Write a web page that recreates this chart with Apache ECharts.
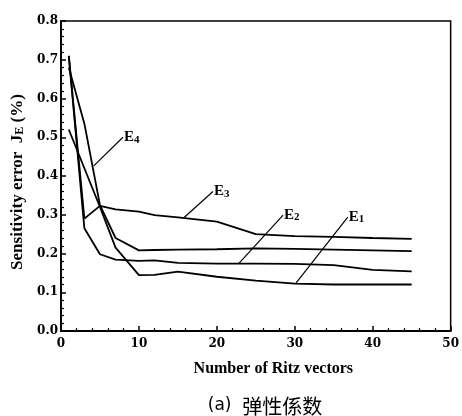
<!DOCTYPE html>
<html>
<head>
<meta charset="utf-8">
<script src="https://cdn.jsdelivr.net/npm/echarts@6/dist/echarts.min.js"></script>
<style>
  html, body { margin: 0; padding: 0; background: #fff; }
  #chart { width: 462px; height: 416px; }
</style>
</head>
<body>
<div id="chart"></div>
<script>
// number of Ritz vectors used
var ritzCounts = [1, 3, 5, 7, 10, 12, 15, 20, 25, 30, 35, 40, 45]

// sensitivity error J_E (%) per elastic modulus
var e1 = [0.52, 0.42, 0.32, 0.215, 0.144, 0.145, 0.153, 0.14, 0.13, 0.122, 0.12, 0.12, 0.12]
var e2 = [0.71, 0.265, 0.198, 0.184, 0.181, 0.182, 0.176, 0.174, 0.174, 0.173, 0.17, 0.158, 0.154]
var e3 = [0.71, 0.29, 0.323, 0.314, 0.308, 0.299, 0.293, 0.282, 0.25, 0.245, 0.243, 0.24, 0.238]
var e4 = [0.68, 0.535, 0.325, 0.24, 0.208, 0.209, 0.21, 0.211, 0.213, 0.212, 0.21, 0.208, 0.206]

// label leader lines [point on curve, label end], in data units
var leaders = {
  E1: [[30.1, 0.122], [36.8, 0.294]],
  E2: [[22.8, 0.174], [28.5, 0.299]],
  E3: [[15.8, 0.293], [19.5, 0.36]],
  E4: [[4.2, 0.426], [7.95, 0.50]]
}

var serif = '"Liberation Serif", "DejaVu Serif", serif'
var tickFont = '"DejaVu Serif", serif'

function pairs (ys) {
  return ritzCounts.map(function (x, i) { return [x, ys[i]] })
}

function curve (name, ys, sub) {
  var l = leaders[name]
  return {
    name: name,
    type: 'line',
    data: pairs(ys),
    showSymbol: false,
    symbol: 'none',
    lineStyle: {color: '#000', width: 1.8},
    markLine: {
      silent: true,
      symbol: 'none',
      animation: false,
      lineStyle: {color: '#000', width: 1.2, type: 'solid'},
      label: {show: false},
      data: [[{coord: l[0]}, {coord: l[1]}]]
    },
    markPoint: {
      silent: true,
      animation: false,
      symbol: 'circle',
      symbolSize: 0,
      label: {
        show: true,
        position: 'right',
        distance: 1,
        formatter: '{e|E}{s|' + sub + '}',
        rich: {
          e: {fontFamily: serif, fontWeight: 'bold', fontSize: 15, color: '#000', lineHeight: 16},
          s: {fontFamily: serif, fontWeight: 'bold', fontSize: 11, color: '#000', verticalAlign: 'bottom', lineHeight: 10}
        }
      },
      data: [{coord: l[1]}]
    }
  }
}

var myChart = echarts.init(document.getElementById('chart'))

var option = {
  animation: false,
  backgroundColor: '#fff',
  title: {
    text: '(a)  {c|弹性係数}',
    left: 260,
    top: 391,
    textAlign: 'center',
    textStyle: {
      fontFamily: '"DejaVu Sans", sans-serif',
      fontSize: 17,
      fontWeight: 'normal',
      color: '#000',
      rich: {
        c: {fontFamily: '"Noto Sans CJK SC", sans-serif', fontSize: 20, color: '#000'}
      }
    }
  },
  grid: {
    left: 61,
    right: 9,
    top: 21,
    bottom: 85,
    show: true,
    borderColor: '#000',
    borderWidth: 1.5,
    containLabel: false
  },
  xAxis: {
    type: 'value',
    min: 0,
    max: 50,
    interval: 10,
    name: 'Number of Ritz vectors',
    nameLocation: 'middle',
    nameGap: 30,
    nameTextStyle: {fontFamily: serif, fontWeight: 'bold', fontSize: 16, color: '#000', padding: [0, 0, 0, 35]},
    axisLine: {lineStyle: {color: '#000', width: 2}},
    axisTick: {inside: true, length: 5, lineStyle: {color: '#000', width: 1.5}},
    minorTick: {show: true, splitNumber: 5, length: 3, lineStyle: {color: '#000', width: 1.2}},
    splitLine: {show: false},
    axisLabel: {fontFamily: tickFont, fontWeight: 'bold', fontSize: 12, color: '#000', margin: 7}
  },
  yAxis: {
    type: 'value',
    min: 0,
    max: 0.8,
    interval: 0.1,
    name: 'Sensitivity error  {j|J}{s|E} (%)',
    nameLocation: 'middle',
    nameGap: 31,
    nameRotate: 90,
    nameTextStyle: {
      fontFamily: serif,
      fontWeight: 'bold',
      fontSize: 17,
      color: '#000',
      lineHeight: 18,
      padding: [0, 12, 0, 0],
      rich: {
        j: {fontFamily: serif, fontSize: 17, color: '#000', lineHeight: 18},
        s: {fontFamily: serif, fontSize: 12, color: '#000', verticalAlign: 'bottom', lineHeight: 12}
      }
    },
    axisLine: {lineStyle: {color: '#000', width: 2}},
    axisTick: {inside: true, length: 5, lineStyle: {color: '#000', width: 1.5}},
    minorTick: {show: true, splitNumber: 5, length: 3, lineStyle: {color: '#000', width: 1.2}},
    splitLine: {show: false},
    axisLabel: {
      fontFamily: tickFont,
      fontWeight: 'bold',
      fontSize: 12,
      color: '#000',
      margin: 3,
      formatter: function (v) { return v.toFixed(1) }
    }
  },
  series: [
    curve('E1', e1, '1'),
    curve('E2', e2, '2'),
    curve('E3', e3, '3'),
    curve('E4', e4, '4')
  ]
}

myChart.setOption(option)
</script>
</body>
</html>
